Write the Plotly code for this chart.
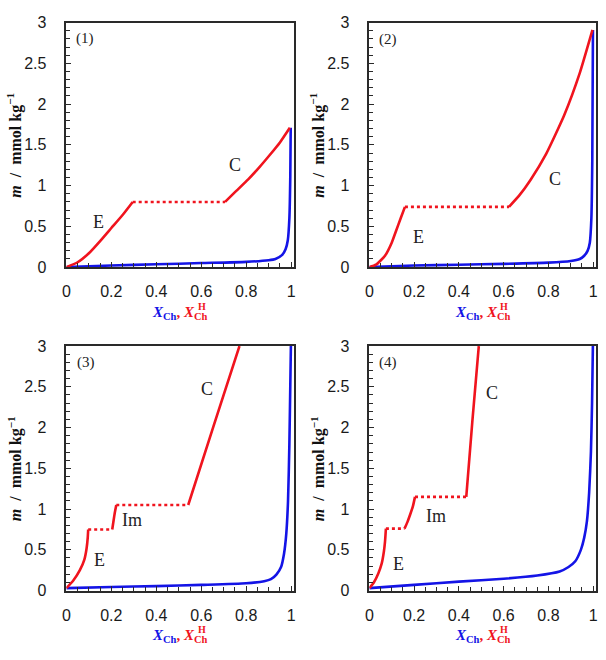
import plotly.graph_objects as go

# ---------------- data ----------------
x_ticks = [0, 0.2, 0.4, 0.6, 0.8, 1]
y_ticks = [0, 0.5, 1, 1.5, 2, 2.5, 3]

# Panel 1
p1_blue_x = [0, 0.2, 0.4, 0.6, 0.8, 0.9, 0.93, 0.96, 0.975, 0.985, 0.992, 0.996, 0.998]
p1_blue_y = [0.0, 0.02, 0.035, 0.05, 0.065, 0.085, 0.1, 0.15, 0.22, 0.33, 0.6, 1.1, 1.71]
p1_E_x = [0, 0.05, 0.1, 0.15, 0.2, 0.25, 0.295]
p1_E_y = [0.0, 0.06, 0.17, 0.32, 0.48, 0.64, 0.8]
p1_dot_x = [0.295, 0.706]
p1_dot_y = [0.8, 0.8]
p1_C_x = [0.706, 0.75, 0.81, 0.86, 0.9, 0.95, 0.994]
p1_C_y = [0.8, 0.92, 1.08, 1.23, 1.36, 1.53, 1.71]

# Panel 2
p2_blue_x = [0, 0.2, 0.4, 0.6, 0.8, 0.9, 0.94, 0.96, 0.975, 0.985, 0.992, 0.996, 0.999]
p2_blue_y = [0.0, 0.02, 0.03, 0.04, 0.055, 0.075, 0.1, 0.14, 0.2, 0.3, 0.6, 1.3, 2.91]
p2_E_x = [0, 0.03, 0.07, 0.1, 0.12, 0.14, 0.159]
p2_E_y = [0.0, 0.03, 0.14, 0.3, 0.45, 0.6, 0.74]
p2_dot_x = [0.159, 0.624]
p2_dot_y = [0.74, 0.74]
p2_C_x = [0.624, 0.67, 0.72, 0.79, 0.87, 0.94, 0.997]
p2_C_y = [0.74, 0.88, 1.07, 1.39, 1.86, 2.38, 2.91]

# Panel 3
p3_blue_x = [0, 0.2, 0.4, 0.6, 0.8, 0.88, 0.91, 0.935, 0.955, 0.968, 0.978, 0.986, 0.992, 0.996, 0.999]
p3_blue_y = [0.03, 0.045, 0.055, 0.07, 0.09, 0.115, 0.14, 0.2, 0.29, 0.45, 0.69, 1.1, 1.8, 2.5, 3.05]
p3_E_x = [0, 0.03, 0.06, 0.08, 0.09, 0.095, 0.097]
p3_E_y = [0.03, 0.12, 0.25, 0.38, 0.52, 0.65, 0.75]
p3_dot1_x = [0.097, 0.204]
p3_dot1_y = [0.75, 0.75]
p3_Im_x = [0.204, 0.21, 0.215, 0.222]
p3_Im_y = [0.75, 0.86, 0.95, 1.05]
p3_dot2_x = [0.222, 0.542]
p3_dot2_y = [1.05, 1.05]
p3_C_x = [0.542, 0.655, 0.77]
p3_C_y = [1.05, 2.02, 3.0]

# Panel 4
p4_blue_x = [0, 0.2, 0.4, 0.6, 0.75, 0.85, 0.89, 0.92, 0.945, 0.96, 0.972, 0.982, 0.99, 0.995, 0.999]
p4_blue_y = [0.03, 0.07, 0.11, 0.145, 0.185, 0.235, 0.29, 0.36, 0.5, 0.65, 0.85, 1.2, 1.7, 2.3, 3.05]
p4_E_x = [0, 0.02, 0.04, 0.055, 0.065, 0.07, 0.074]
p4_E_y = [0.03, 0.1, 0.21, 0.33, 0.48, 0.6, 0.76]
p4_dot1_x = [0.074, 0.157]
p4_dot1_y = [0.76, 0.76]
p4_Im_x = [0.157, 0.17, 0.182, 0.195, 0.204]
p4_Im_y = [0.76, 0.84, 0.93, 1.04, 1.15]
p4_dot2_x = [0.204, 0.433]
p4_dot2_y = [1.15, 1.15]
p4_C_x = [0.433, 0.46, 0.489]
p4_C_y = [1.15, 2.07, 3.0]

# labels: (text, x, y)
p1_labels = [("(1)", 0.084, 2.8), ("E", 0.144, 0.55), ("C", 0.75, 1.25)]
p2_labels = [("(2)", 0.084, 2.79), ("E", 0.22, 0.37), ("C", 0.829, 1.08)]
p3_labels = [("(3)", 0.088, 2.8), ("E", 0.148, 0.37), ("Im", 0.292, 0.87), ("C", 0.626, 2.47)]
p4_labels = [("(4)", 0.084, 2.8), ("E", 0.129, 0.33), ("Im", 0.298, 0.91), ("C", 0.547, 2.43)]

# ---------------- style ----------------
RED = "#f0141e"
BLUE = "#1414e6"
LW = 2.6
AXC = "#2a2a2a"

x_domains = [[63 / 606, 293 / 606], [369 / 606, 598 / 606]]
y_domains = [[1 - 266 / 660, 1 - 15 / 660], [1 - 598 / 660, 1 - 347 / 660]]

fig = go.Figure()

panels = [
    dict(blue=(p1_blue_x, p1_blue_y), solid=[(p1_E_x, p1_E_y), (p1_C_x, p1_C_y)],
         dots=[(p1_dot_x, p1_dot_y)], labels=p1_labels),
    dict(blue=(p2_blue_x, p2_blue_y), solid=[(p2_E_x, p2_E_y), (p2_C_x, p2_C_y)],
         dots=[(p2_dot_x, p2_dot_y)], labels=p2_labels),
    dict(blue=(p3_blue_x, p3_blue_y), solid=[(p3_E_x, p3_E_y), (p3_Im_x, p3_Im_y), (p3_C_x, p3_C_y)],
         dots=[(p3_dot1_x, p3_dot1_y), (p3_dot2_x, p3_dot2_y)], labels=p3_labels),
    dict(blue=(p4_blue_x, p4_blue_y), solid=[(p4_E_x, p4_E_y), (p4_Im_x, p4_Im_y), (p4_C_x, p4_C_y)],
         dots=[(p4_dot1_x, p4_dot1_y), (p4_dot2_x, p4_dot2_y)], labels=p4_labels),
]

annotations = []
layout_axes = {}
tickfont = dict(family="Liberation Sans, Arial, sans-serif", size=16, color="#1a1a1a")
labfont = dict(family="Liberation Serif, DejaVu Serif, serif", size=18, color="#222222")
titlefont = dict(family="Liberation Serif, DejaVu Serif, serif", size=15, color="#111111")

for i, p in enumerate(panels):
    row, col = divmod(i, 2)
    n = i + 1
    xa = "x" if n == 1 else f"x{n}"
    ya = "y" if n == 1 else f"y{n}"
    xkey = "xaxis" if n == 1 else f"xaxis{n}"
    ykey = "yaxis" if n == 1 else f"yaxis{n}"

    fig.add_trace(go.Scatter(x=p["blue"][0], y=p["blue"][1], mode="lines",
                             line=dict(color=BLUE, width=LW, shape="spline", smoothing=0.6),
                             xaxis=xa, yaxis=ya, showlegend=False, cliponaxis=True))
    for sx, sy in p["solid"]:
        fig.add_trace(go.Scatter(x=sx, y=sy, mode="lines",
                                 line=dict(color=RED, width=LW, shape="spline", smoothing=0.5),
                                 xaxis=xa, yaxis=ya, showlegend=False))
    for dx, dy in p["dots"]:
        fig.add_trace(go.Scatter(x=dx, y=dy, mode="lines",
                                 line=dict(color=RED, width=LW, dash="dot"),
                                 xaxis=xa, yaxis=ya, showlegend=False))

    layout_axes[xkey] = dict(
        domain=x_domains[col], range=[0, 1.013], anchor=ya,
        tickvals=x_ticks, ticktext=[str(v) for v in x_ticks],
        ticks="inside", ticklen=5, tickwidth=1.2, tickcolor=AXC,
        minor=dict(dtick=0.05, tick0=0, ticks="inside", ticklen=4, tickwidth=1, tickcolor=AXC, showgrid=False),
        showline=True, linecolor=AXC, linewidth=1.5, mirror=True,
        showgrid=False, zeroline=False, tickfont=tickfont, ticklabelstandoff=9,
    )
    layout_axes[ykey] = dict(
        domain=y_domains[row], range=[0, 3], anchor=xa,
        tickvals=y_ticks, ticktext=[str(v) for v in y_ticks],
        ticks="inside", ticklen=5, tickwidth=1.2, tickcolor=AXC,
        minor=dict(dtick=0.1, tick0=0, ticks="inside", ticklen=4, tickwidth=1, tickcolor=AXC, showgrid=False),
        showline=True, linecolor=AXC, linewidth=1.5, mirror=True,
        showgrid=False, zeroline=False, tickfont=tickfont, ticklabelstandoff=15,
    )

    for txt, lx, ly in p["labels"]:
        annotations.append(dict(x=lx, y=ly, xref=xa, yref=ya, text=txt, showarrow=False,
                                font=labfont if not txt.startswith("(") else dict(labfont, size=15)))

    # axis titles
    xc = (x_domains[col][0] + x_domains[col][1]) / 2
    ybot = y_domains[row][0]
    ymid = (y_domains[row][0] + y_domains[row][1]) / 2
    xleft = x_domains[col][0]
    annotations.append(dict(
        x=xleft - 52 / 606, y=ymid, xref="paper", yref="paper", textangle=-90,
        text="<b><i>m</i>  /  mmol kg<sup>−1</sup></b>", showarrow=False,
        font=dict(titlefont, size=16), xanchor="center", yanchor="middle"))
    annotations.append(dict(
        x=xc, y=ybot - 47 / 660, xref="paper", yref="paper",
        text=("<b><span style='color:%s'><i>X</i><sub>Ch</sub></span>"
              "<span style='color:%s'>, <i>X</i><sub>Ch</sub></span></b>") % (BLUE, RED),
        showarrow=False, font=dict(titlefont, size=15), xanchor="center", yanchor="middle"))
    annotations.append(dict(
        x=xc + 22 / 606, y=ybot - 40 / 660, xref="paper", yref="paper",
        text="<b>H</b>", showarrow=False,
        font=dict(family=titlefont["family"], size=10, color=RED), xanchor="center", yanchor="middle"))

fig.update_layout(
    width=606, height=660, margin=dict(l=0, r=0, t=0, b=0),
    paper_bgcolor="white", plot_bgcolor="white",
    annotations=annotations, **layout_axes,
)

fig.write_html("out.html")
